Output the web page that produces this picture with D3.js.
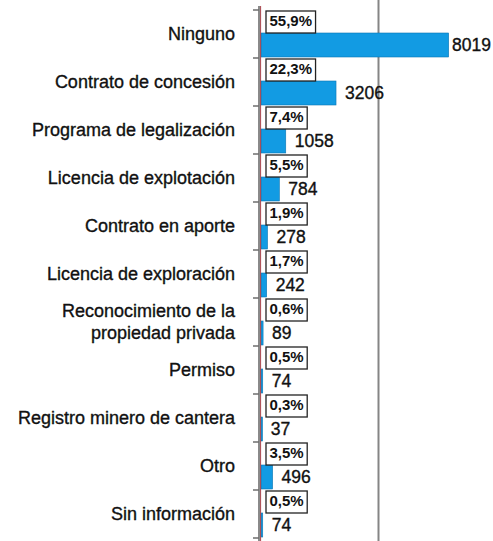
<!DOCTYPE html>
<html>
<head>
<meta charset="utf-8">
<script src="https://cdn.jsdelivr.net/npm/d3@7"></script>
<style>
  body { margin: 0; background: #fff; }
  text { font-family: "Liberation Sans", Arial, Helvetica, sans-serif; fill: #111; }
  .heavy { stroke: #111; stroke-width: 0.35px; }
</style>
</head>
<body>
<svg id="chart" width="493" height="541"></svg>
<script>
// data
const categorias = [
  "Ninguno",
  "Contrato de concesión",
  "Programa de legalización",
  "Licencia de explotación",
  "Contrato en aporte",
  "Licencia de exploración",
  "Reconocimiento de la|propiedad privada",
  "Permiso",
  "Registro minero de cantera",
  "Otro",
  "Sin información"
];
const valores = [8019, 3206, 1058, 784, 278, 242, 89, 74, 37, 496, 74];
const porcentajes = ["55,9%", "22,3%", "7,4%", "5,5%", "1,9%", "1,7%", "0,6%", "0,5%", "0,3%", "3,5%", "0,5%"];
const gridTicks = [5000];

const data = categorias.map((c, i) => ({ cat: c, valor: valores[i], pct: porcentajes[i] }));

const width = 493;
const height = 541;
const x0 = 261;

const svg = d3.select('#chart');

const xScale = d3.scaleLinear()
  .domain([0, 5000])
  .range([x0, 378]);

const yScale = d3.scaleBand()
  .domain(categorias)
  .range([10, 538])
  .paddingInner(0);

const bw = yScale.bandwidth();

// gridline at 5000
svg.append('g')
  .attr('transform', `translate(0,${height})`)
  .call(d3.axisBottom(xScale).tickValues(gridTicks).tickSize(-height).tickFormat(''))
  .call(g => g.select('.domain').remove())
  .call(g => g.selectAll('.tick line').attr('stroke', '#858585').attr('stroke-width', 2));

// bars
svg.append('g')
  .selectAll('rect')
  .data(data)
  .join('rect')
  .attr('x', x0)
  .attr('y', d => yScale(d.cat) + 23)
  .attr('width', d => Math.max(1.5, xScale(d.valor) - x0))
  .attr('height', 24)
  .attr('fill', '#129be3')
  .attr('stroke', '#0d76b3')
  .attr('stroke-width', 0.6);

// value labels (kept inside the picture on the right)
svg.append('g')
  .selectAll('text')
  .data(data)
  .join('text')
  .attr('class', 'heavy')
  .attr('x', d => Math.min(xScale(d.valor) + 9, 452))
  .attr('y', d => yScale(d.cat) + 36)
  .attr('dominant-baseline', 'middle')
  .style('font-size', '17.5px')
  .text(d => d.valor);

// percentage boxes
const pctG = svg.append('g')
  .selectAll('g')
  .data(data)
  .join('g')
  .attr('transform', d => `translate(266,${yScale(d.cat) + 1})`);

pctG.append('text')
  .attr('x', 3.5)
  .attr('y', 11.5)
  .attr('dominant-baseline', 'middle')
  .style('font-size', '15px')
  .style('font-weight', 'bold')
  .text(d => d.pct);

pctG.insert('rect', 'text')
  .attr('width', function () {
    const t = this.parentNode.querySelector('text');
    return t.getComputedTextLength() + 7;
  })
  .attr('height', 22)
  .attr('fill', '#fff')
  .attr('stroke', '#222')
  .attr('stroke-width', 1.3);

// left axis with ticks
const yAxis = svg.append('g')
  .attr('transform', `translate(${x0 - 2},0)`);

yAxis.append('line')
  .attr('y1', 6).attr('y2', height)
  .attr('stroke', '#8a8a8a').attr('stroke-width', 2);
yAxis.append('line')
  .attr('x1', 1.6).attr('x2', 1.6)
  .attr('y1', 6).attr('y2', height)
  .attr('stroke', '#a8434a').attr('stroke-width', 1);

yAxis.selectAll('line.tk')
  .data(d3.range(categorias.length + 1))
  .join('line')
  .attr('class', 'tk')
  .attr('x1', -6).attr('x2', 0)
  .attr('y1', i => 10 + i * bw)
  .attr('y2', i => 10 + i * bw)
  .attr('stroke', '#6e6e6e')
  .attr('stroke-width', 1.5);

// category labels
const catLabels = svg.append('g')
  .selectAll('text')
  .data(data)
  .join('text')
  .attr('class', 'heavy')
  .attr('text-anchor', 'end')
  .attr('x', 235)
  .attr('y', d => yScale(d.cat) + bw / 2)
  .style('font-size', '18px');

catLabels.each(function (d) {
  const lines = d.cat.split('|');
  const t = d3.select(this);
  lines.forEach((l, i) => {
    t.append('tspan')
      .attr('x', 235)
      .attr('dy', i === 0 ? (0.35 - (lines.length - 1) * 0.62) + 'em' : '1.24em')
      .text(l);
  });
});
</script>
</body>
</html>
